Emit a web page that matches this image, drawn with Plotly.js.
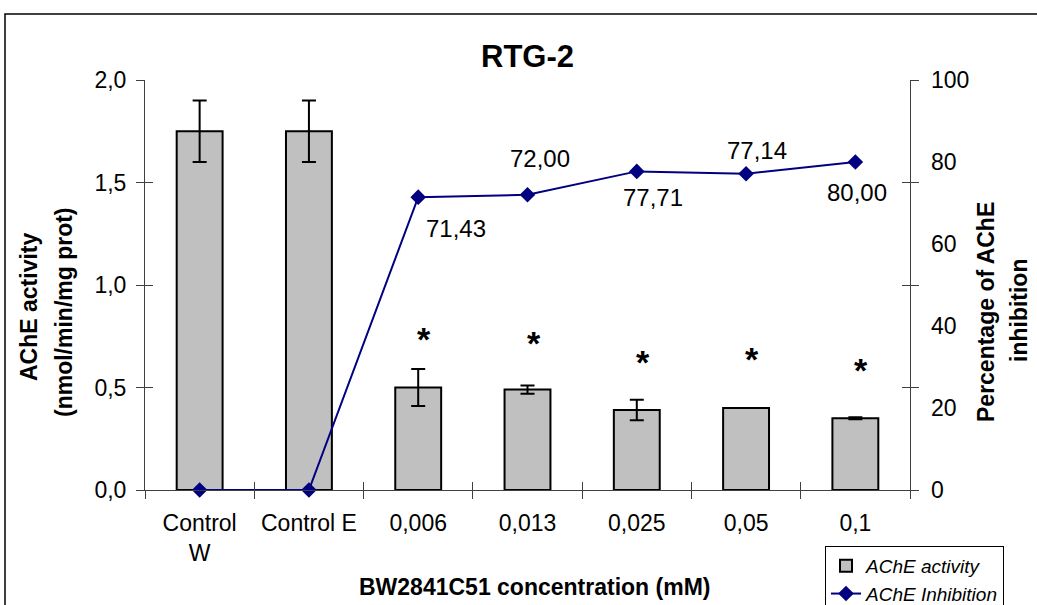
<!DOCTYPE html>
<html>
<head>
<meta charset="utf-8">
<script src="https://cdn.plot.ly/plotly-3.0.1.min.js"></script>
<style>
  html, body { margin: 0; padding: 0; background: #ffffff; }
  #chart { width: 1037px; height: 605px; }
</style>
</head>
<body>
<div id="chart"></div>
<script>
// ---- data ----
const categories = ['Control<br>W', 'Control E', '0,006', '0,013', '0,025', '0,05', '0,1'];
const activity = [1.75, 1.75, 0.50, 0.49, 0.39, 0.40, 0.35];
const activityError = [0.15, 0.15, 0.09, 0.02, 0.05, null, 0.005];
const inhibition = [0, 0, 71.43, 72.00, 77.71, 77.14, 80.00];
const significance = ['', '', '*', '*', '*', '*', '*'];
const asteriskLevel = [null, null, 0.766, 0.746, 0.654, 0.668, 0.615];
const leftTicks = [0, 0.5, 1.0, 1.5, 2.0];
const rightTicks = [0, 20, 40, 60, 80, 100];

// ---- styling ----
const FONT = 'Liberation Sans, Arial, sans-serif';
const AX = '#404040';
// label offsets in pixels (dx, dy) per point
const labelShift = [null, null, [38, -31], [12, 36], [16, -26], [11, 23], [2, -30]];

// plot area in pixels
const L = 145, R = 910, T = 80, B = 490, W = 1037, H = 605;
const px = x => (x - L) / (R - L);
const py = y => (B - y) / (B - T);

const traces = [
  {
    type: 'bar', name: 'AChE activity', x: categories, y: activity,
    xaxis: 'x', yaxis: 'y', width: 0.42,
    marker: { color: '#c0c0c0', line: { color: '#000000', width: 2 } },
    error_y: { type: 'data', array: activityError, visible: true, color: '#000000', thickness: 2, width: 7 },
    hoverinfo: 'skip'
  },
  {
    type: 'scatter', mode: 'lines+markers', name: 'AChE Inhibition',
    x: categories, y: inhibition, xaxis: 'x', yaxis: 'y2',
    line: { color: '#000080', width: 2 },
    marker: { symbol: 'diamond', size: 12, color: '#000080' },
    cliponaxis: false, hoverinfo: 'skip'
  },
  {
    // invisible helper trace carrying the inward-tick overlay axes
    type: 'scatter', mode: 'markers', x: categories, y: categories.map(() => -1),
    xaxis: 'x2', yaxis: 'y3', showlegend: false, hoverinfo: 'skip',
    marker: { opacity: 0, size: 1 }, cliponaxis: true
  }
];

const annotations = [];
// data labels
inhibition.forEach((v, i) => {
  if (!labelShift[i]) return;
  annotations.push({
    x: i, y: v, xref: 'x', yref: 'y2', text: v.toFixed(2).replace('.', ','),
    showarrow: false, xshift: labelShift[i][0], yshift: labelShift[i][1],
    xanchor: 'center', yanchor: 'middle',
    font: { family: FONT, size: 24, color: '#000000' }
  });
});
// significance asterisks
significance.forEach((s, i) => {
  if (!s) return;
  annotations.push({
    x: i, y: asteriskLevel[i], xref: 'x', yref: 'y', text: s,
    showarrow: false, xshift: 6, yshift: -6, xanchor: 'center', yanchor: 'middle',
    font: { family: FONT, size: 34, color: '#000000', weight: 'bold' }
  });
});
// axis titles
const bold = { family: FONT, size: 23, color: '#000000', weight: 'bold' };
annotations.push(
  { xref: 'paper', yref: 'paper', x: px(534), y: py(587), text: 'BW2841C51 concentration (mM)',
    showarrow: false, xanchor: 'center', yanchor: 'middle', font: bold },
  { xref: 'paper', yref: 'paper', x: px(29), y: py(307), text: 'AChE activity', textangle: -90,
    showarrow: false, xanchor: 'center', yanchor: 'middle', font: bold },
  { xref: 'paper', yref: 'paper', x: px(64), y: py(312), text: '(nmol/min/mg prot)', textangle: -90,
    showarrow: false, xanchor: 'center', yanchor: 'middle', font: bold },
  { xref: 'paper', yref: 'paper', x: px(986), y: py(312), text: 'Percentage of AChE', textangle: -90,
    showarrow: false, xanchor: 'center', yanchor: 'middle', font: bold },
  { xref: 'paper', yref: 'paper', x: px(1019), y: py(311), text: 'inhibition', textangle: -90,
    showarrow: false, xanchor: 'center', yanchor: 'middle', font: bold }
);

const tickFont = { family: FONT, size: 23, color: '#000000' };

const layout = {
  width: W, height: H,
  margin: { l: L, r: W - R, t: T, b: H - B, pad: 0, autoexpand: false },
  paper_bgcolor: '#ffffff', plot_bgcolor: '#ffffff',
  separators: ', ',
  showlegend: true,
  title: {
    text: 'RTG-2', x: 0.5, xref: 'paper', xanchor: 'center',
    y: 1 - 56 / H, yref: 'container', yanchor: 'middle',
    font: { family: FONT, size: 31, color: '#000000', weight: 'bold' }
  },
  xaxis: {
    type: 'category', range: [-0.5, 6.5], tickson: 'boundaries',
    ticks: 'outside', ticklen: 8, tickwidth: 1, tickcolor: AX,
    showline: true, linecolor: AX, linewidth: 1, showgrid: false, zeroline: false,
    tickfont: tickFont, ticklabelstandoff: 12, fixedrange: true
  },
  xaxis2: {
    type: 'category', overlaying: 'x', anchor: 'y3', side: 'bottom', range: [-0.5, 6.5], tickson: 'boundaries',
    ticks: 'inside', ticklen: 8, tickwidth: 1, tickcolor: AX,
    showline: false, showgrid: false, zeroline: false, showticklabels: false
  },
  yaxis: {
    range: [0, 2], tickvals: leftTicks, tickformat: '.1f',
    ticks: 'outside', ticklen: 8, tickwidth: 1, tickcolor: AX,
    showline: true, linecolor: AX, linewidth: 1, mirror: 'ticks',
    showgrid: false, zeroline: false, tickfont: tickFont, ticklabelstandoff: 5
  },
  yaxis3: {
    overlaying: 'y', side: 'left', anchor: 'x2', range: [0, 2], tickvals: leftTicks,
    ticks: 'inside', ticklen: 8, tickwidth: 1, tickcolor: AX, mirror: 'ticks',
    showline: false, showgrid: false, zeroline: false, showticklabels: false
  },
  yaxis2: {
    overlaying: 'y', side: 'right', range: [0, 100], tickvals: rightTicks,
    ticks: '', showline: false, showgrid: false, zeroline: false, tickfont: tickFont,
    ticklabelstandoff: 20
  },
  legend: {
    x: px(825), y: py(546), xanchor: 'left', yanchor: 'top',
    bgcolor: '#ffffff', bordercolor: '#000000', borderwidth: 1,
    font: { family: FONT, size: 19, color: '#000000', style: 'italic' },
    tracegroupgap: 0
  },
  shapes: [
    { type: 'rect', xref: 'paper', yref: 'paper', x0: px(5), x1: px(1060), y0: py(640), y1: py(14),
      line: { color: '#000000', width: 1.5 }, fillcolor: 'rgba(0,0,0,0)', layer: 'below' }
  ],
  annotations: annotations
};

Plotly.newPlot('chart', traces, layout, { displayModeBar: false, staticPlot: true });
</script>
</body>
</html>
